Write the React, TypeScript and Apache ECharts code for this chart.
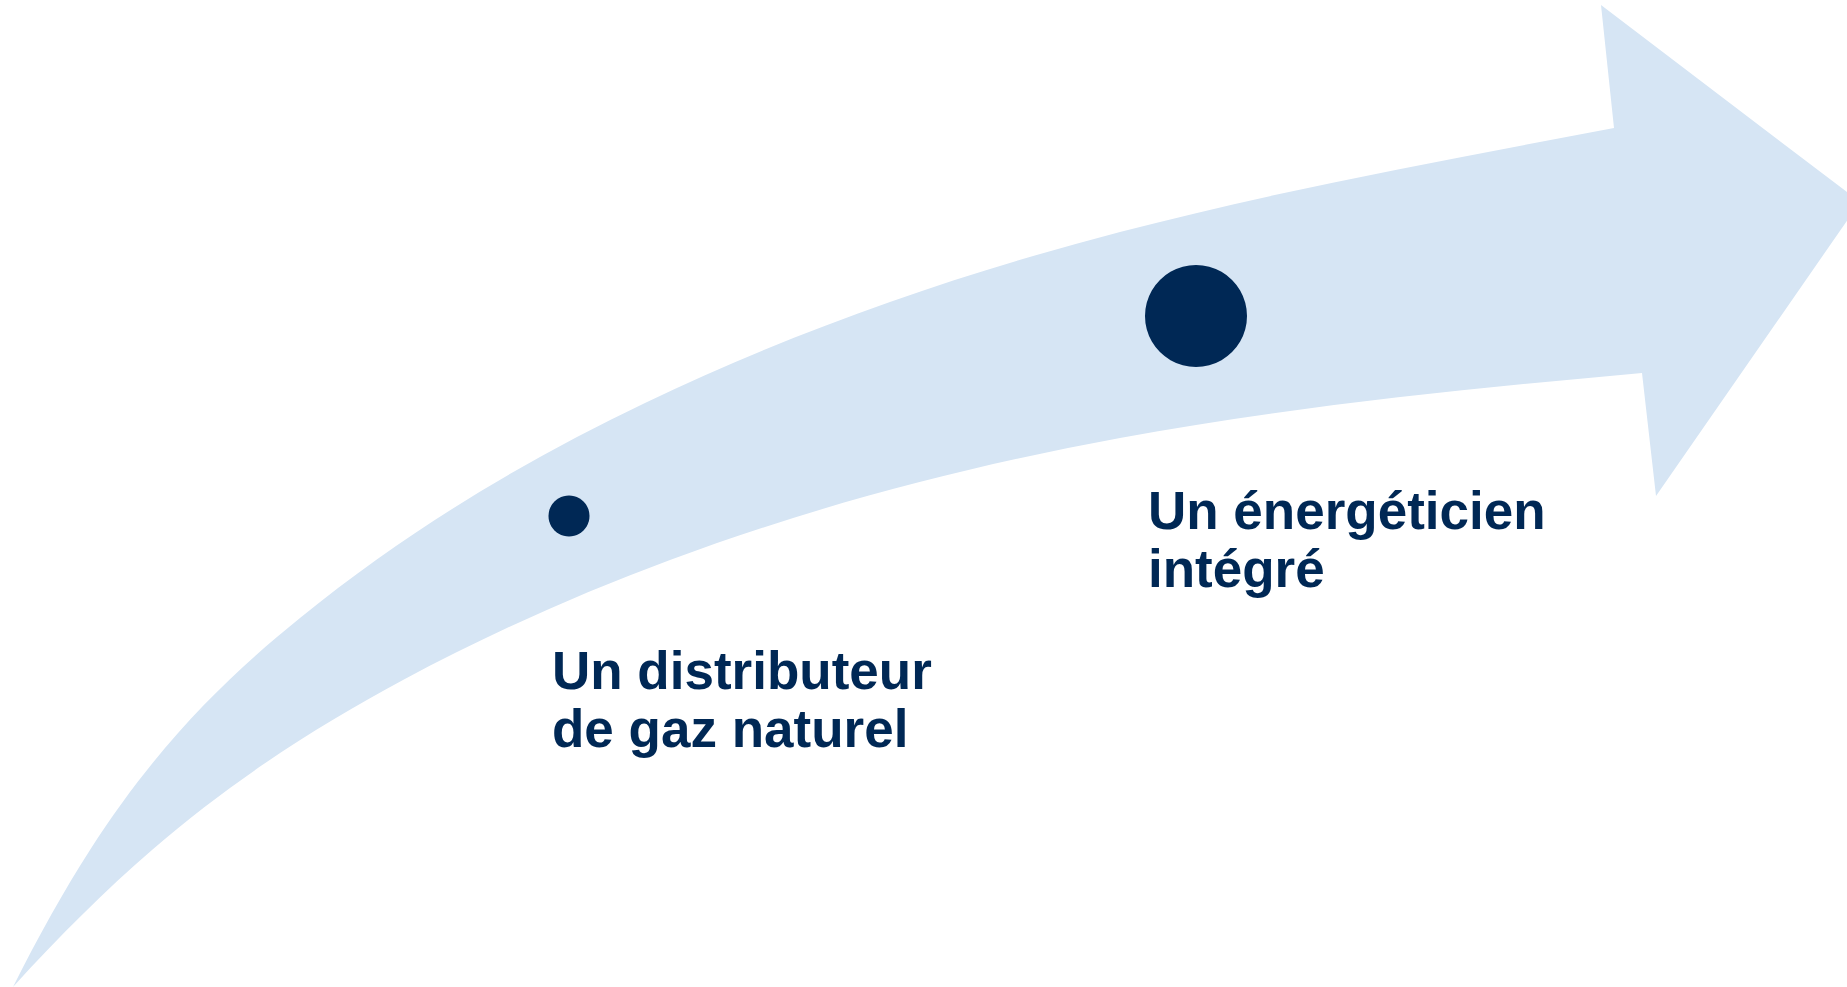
import React, { useEffect, useRef } from "react";
import * as echarts from "echarts";

// Milestones along the arrow
const milestoneLabels: string[][] = [
  ["Un distributeur", "de gaz naturel"],
  ["Un énergéticien", "intégré"],
];
const milestonePoints: number[][] = [
  [569, 516],
  [1196, 316],
];
const milestoneSizes: number[] = [41, 102];
const labelAnchors: number[][] = [
  [552, 688],
  [1148, 528],
];

// Arrow outline (pixel space)
const upperEdge: number[][] = [
  [13, 987], [90, 850], [300, 618], [645, 403], [1120, 232], [1614, 128],
];
const upperEndSlopes: number[] = [-2.0, -0.19];
const headPoints: number[][] = [
  [1601, 5], [1860, 202], [1656, 496], [1642, 373],
];
const lowerEdge: number[][] = [
  [13, 987], [152, 850], [403, 680], [670, 560], [1120, 438], [1642, 373],
];
const lowerEndSlopes: number[] = [-1.1, -0.09];

const NAVY = "#002855";
const LIGHT = "#D6E5F4";

// clamped cubic spline: slopes at nodes
function splineSlopes(pts: number[][], k0: number, kn: number): number[] {
  const n = pts.length;
  const k = new Array(n).fill(0);
  k[0] = k0;
  k[n - 1] = kn;
  if (n <= 2) return k;
  const m = n - 2;
  const A: number[] = [], B: number[] = [], C: number[] = [], D: number[] = [];
  for (let i = 1; i <= n - 2; i++) {
    const hl = pts[i][0] - pts[i - 1][0];
    const hr = pts[i + 1][0] - pts[i][0];
    let a = 1 / hl;
    const b = 2 * (1 / hl + 1 / hr);
    let c = 1 / hr;
    let d = 3 * ((pts[i][1] - pts[i - 1][1]) / (hl * hl) + (pts[i + 1][1] - pts[i][1]) / (hr * hr));
    if (i === 1) { d -= a * k0; a = 0; }
    if (i === n - 2) { d -= c * kn; c = 0; }
    A.push(a); B.push(b); C.push(c); D.push(d);
  }
  for (let i = 1; i < m; i++) {
    const w = A[i] / B[i - 1];
    B[i] -= w * C[i - 1];
    D[i] -= w * D[i - 1];
  }
  const sol = new Array(m).fill(0);
  sol[m - 1] = D[m - 1] / B[m - 1];
  for (let i = m - 2; i >= 0; i--) sol[i] = (D[i] - C[i] * sol[i + 1]) / B[i];
  for (let i = 0; i < m; i++) k[i + 1] = sol[i];
  return k;
}

type Seg = number[][]; // [p0, c1, c2, p1]

function splineSegments(pts: number[][], ends: number[]): Seg[] {
  const k = splineSlopes(pts, ends[0], ends[1]);
  const segs: Seg[] = [];
  for (let i = 0; i < pts.length - 1; i++) {
    const [x0, y0] = pts[i];
    const [x1, y1] = pts[i + 1];
    const h = (x1 - x0) / 3;
    segs.push([[x0, y0], [x0 + h, y0 + k[i] * h], [x1 - h, y1 - k[i + 1] * h], [x1, y1]]);
  }
  return segs;
}

const f = (v: number) => v.toFixed(2);

function arrowPath(): string {
  const up = splineSegments(upperEdge, upperEndSlopes);
  let d = `M ${f(up[0][0][0])} ${f(up[0][0][1])}`;
  up.forEach((s) => {
    d += ` C ${f(s[1][0])} ${f(s[1][1])} ${f(s[2][0])} ${f(s[2][1])} ${f(s[3][0])} ${f(s[3][1])}`;
  });
  headPoints.forEach((p) => (d += ` L ${p[0]} ${p[1]}`));
  const low = splineSegments(lowerEdge, lowerEndSlopes).reverse();
  low.forEach((s) => {
    d += ` C ${f(s[2][0])} ${f(s[2][1])} ${f(s[1][0])} ${f(s[1][1])} ${f(s[0][0])} ${f(s[0][1])}`;
  });
  d += " Z";
  return d;
}

let registered = false;

export default function App() {
  const ref = useRef<HTMLDivElement>(null);
  useEffect(() => {
    if (!ref.current) return;
    if (!registered) {
      echarts.graphic.registerShape("bigArrow", echarts.graphic.extendPath(arrowPath(), {}));
      registered = true;
    }
    const chart = echarts.init(ref.current, undefined, { renderer: "svg" });
    const font = '"Liberation Sans", Arial, sans-serif';
    const texts: any[] = [];
    milestoneLabels.forEach((lines, i) => {
      lines.forEach((line, j) => {
        texts.push({
          type: "text",
          x: labelAnchors[i][0],
          y: labelAnchors[i][1] + j * 58 - 18,
          z: 10,
          style: {
            text: line,
            fill: NAVY,
            fontFamily: font,
            fontWeight: "bold",
            fontSize: 53,
            verticalAlign: "middle",
            align: "left",
          },
        });
      });
    });
    chart.setOption({
      animation: false,
      backgroundColor: "#ffffff",
      grid: { left: 0, right: 0, top: 0, bottom: 0 },
      xAxis: { type: "value", min: 0, max: 1847, show: false },
      yAxis: { type: "value", min: 0, max: 987, inverse: true, show: false },
      graphic: [
        {
          type: "bigArrow",
          x: 0,
          y: 0,
          z: -10,
          silent: true,
          style: { fill: LIGHT },
        },
        ...texts,
      ],
      series: [
        {
          type: "scatter",
          z: 5,
          data: milestonePoints.map((p, i) => ({ value: p, symbolSize: milestoneSizes[i] })),
          itemStyle: { color: NAVY, opacity: 1 },
          silent: true,
        },
      ],
    });
    return () => chart.dispose();
  }, []);
  return (
    <div
      ref={ref}
      style={{ position: "absolute", left: 0, top: 0, width: 1847, height: 987 }}
    />
  );
}
